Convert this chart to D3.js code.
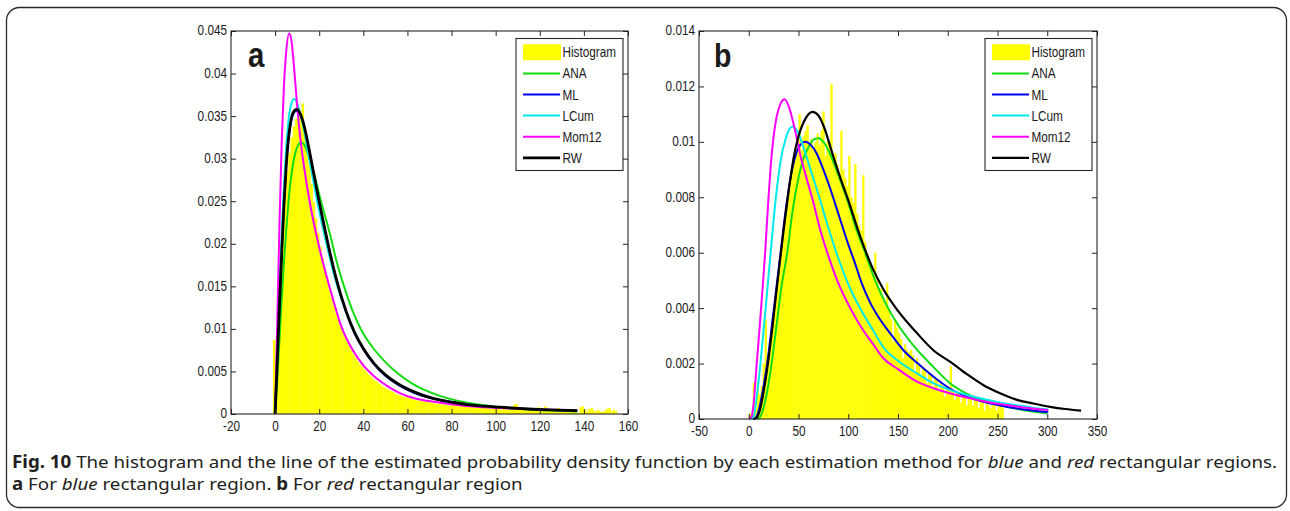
<!DOCTYPE html>
<html>
<head>
<meta charset="utf-8">
<script src="https://cdn.jsdelivr.net/npm/d3@7"></script>
<style>
  html, body { margin: 0; padding: 0; background: #fff; }
  svg { display: block; }
  text { font-family: "Liberation Sans", Arial, sans-serif; fill: #1a1a1a; }
  .caption text { font-family: "Noto Sans", "Open Sans", sans-serif; fill: #231f20; white-space: pre; }
</style>
</head>
<body>
<div id="fig"></div>
<script>
{
const width = 1290, height = 511;
const squeeze = 0.84;   // the figure's text is horizontally narrow

// ---- series ----
const seriesNames = ['ANA', 'ML', 'LCum', 'Mom12', 'RW'];
const seriesColors = ['#12dc12', '#0000ee', '#00eaea', '#ff00ff', '#000000'];

// ---- panel a ----
const xTicksA = [-20, 0, 20, 40, 60, 80, 100, 120, 140, 160];
const yTicksA = [0, 0.005, 0.01, 0.015, 0.02, 0.025, 0.03, 0.035, 0.04, 0.045];
const histAStart = -1, histABin = 1;
const histA = [
  0.0087,0.0062,0.0118,0.0172,0.0218,0.0256,0.0286,0.0307,0.0325,0.0338,
  0.0347,0.0352,0.0350,0.0365,0.0336,0.0316,0.0292,0.0270,0.0249,0.0230,
  0.0213,0.0197,0.0183,0.0170,0.0158,0.0147,0.0137,0.0128,0.0119,0.0111,
  0.0104,0.0097,0.0091,0.0085,0.0080,0.0075,0.0070,0.0066,0.0062,0.0058,
  0.0055,0.0052,0.0049,0.0046,0.0044,0.0041,0.0039,0.0037,0.0035,0.0033,
  0.0031,0.0030,0.0028,0.0027,0.0026,0.0024,0.0023,0.0022,0.0021,0.0020,
  0.0020,0.0019,0.0018,0.0017,0.0017,0.0016,0.0016,0.0015,0.0015,0.0014,
  0.0014,0.0013,0.0013,0.0012,0.0012,0.0012,0.0011,0.0011,0.0011,0.0010,
  0.0010,0.0012,0.0017,0.0010,0.0009,0.0009,0.0010,0.0009,0.0008,0.0008,
  0.0008,0.0008,0.0007,0.0007,0.0008,0.0007,0.0010,0.0007,0.0006,0.0006,
  0.0007,0.0006,0.0006,0.0005,0.0006,0.0006,0.0005,0.0005,0.0006,0.0011,
  0.0012,0.0006,0.0005,0.0005,0.0004,0.0005,0.0004,0.0004,0.0005,0.0004,
  0.0008,0.0006,0.0004,0.0009,0.0005,0.0004,0.0004,0.0003,0.0004,0.0007,
  0.0004,0.0003,0.0004,0.0003,0.0006,0.0003,0.0003,0.0002,0.0001,0.0008,
  0.0009,0.0005,0.0003,0.0006,0.0007,0.0004,0.0003,0.0005,0.0003,0.0002,
  0.0004,0.0006,0.0007,0.0003,0.0005,0.0003
];
const anaA = [[0,0],[1,0.0042],[2,0.0088],[3,0.0135],[4,0.0178],[5,0.0215],[6,0.0247],[7,0.0273],[8,0.0292],[9,0.0305],[10.5,0.0316],[11.8,0.0319],[13,0.0317],[14.5,0.0309],[16,0.0297],[18,0.0279],[20,0.0258],[22.5,0.0234],[25,0.0210],[28,0.0178],[31,0.0152],[35,0.0122],[39,0.0099],[44,0.0079],[50,0.0061],[56,0.0047],[62,0.0036],[68,0.0028],[75,0.0021],[82,0.0016],[90,0.0012],[100,0.00085],[110,0.00062],[120,0.00047],[130,0.00037],[137,0.0003]];
const mlA = [[0,0],[1,0.0066],[2,0.0132],[3,0.0193],[4,0.0248],[5,0.0292],[6,0.0322],[7,0.0341],[8,0.0351],[9.5,0.0356],[11,0.0353],[12.5,0.0343],[14,0.0327],[16,0.0301],[18,0.0274],[20,0.0247],[22,0.0222],[25,0.0187],[28,0.0155],[32,0.0121],[36,0.0095],[40,0.0076],[45,0.0058],[50,0.0045],[56,0.0034],[63,0.0025],[72,0.0018],[80,0.0014],[87,0.0011],[95,0.0009],[102,0.00078],[110,0.00065],[117,0.00055],[125,0.00047],[137,0.0004]];
const lcumA = [[0,0],[1,0.0075],[2,0.0148],[3,0.0213],[4,0.0268],[5,0.0312],[6,0.0343],[7,0.0361],[8.6,0.0370],[10,0.0365],[11.5,0.0352],[13,0.0335],[15,0.0306],[17,0.0278],[19,0.0251],[21,0.0226],[24,0.0192],[27,0.0161],[30,0.0136],[34,0.0108],[38,0.0086],[42,0.0069],[47,0.0053],[52,0.0042],[58,0.0032],[65,0.0024],[72,0.0018],[80,0.0014],[87,0.00108],[95,0.0009],[102,0.00077],[110,0.00065],[117,0.00056],[125,0.00048],[137,0.0004]];
const mom12A = [[0,0],[1,0.011],[2,0.0225],[3,0.0320],[4,0.0385],[5,0.0425],[6.4,0.0447],[7.5,0.0437],[8.5,0.0410],[10,0.0362],[11.5,0.0322],[13.5,0.0284],[15.5,0.0252],[17.5,0.0225],[20,0.0196],[23,0.0165],[26,0.0137],[30,0.0103],[35,0.0076],[40,0.0057],[45,0.0044],[52,0.0031],[57,0.0024],[64,0.0018],[72,0.00145],[80,0.00115],[87,0.00095],[95,0.0008],[102,0.0007],[110,0.00063],[117,0.00057],[125,0.0005],[137,0.00042]];
const rwA = [[0,0],[1,0.0065],[2,0.013],[3,0.019],[4,0.0245],[5,0.029],[6,0.0322],[7,0.0342],[8,0.0353],[9.7,0.0358],[11,0.0355],[12.5,0.0345],[14,0.0329],[16,0.0303],[18,0.0276],[20,0.0249],[22,0.0224],[25,0.0188],[28,0.0156],[32,0.0122],[36,0.0096],[40,0.0077],[45,0.0059],[50,0.0046],[56,0.0035],[63,0.0026],[72,0.0018],[80,0.0014],[87,0.0011],[95,0.00092],[102,0.0008],[110,0.00066],[117,0.00056],[125,0.00048],[137,0.0004]];

// ---- panel b ----
const xTicksB = [-50, 0, 50, 100, 150, 200, 250, 300, 350];
const yTicksB = [0, 0.002, 0.004, 0.006, 0.008, 0.01, 0.012, 0.014];
const histBStart = 0, histBBin = 2;
const histB = [
  0.0002,0.0002,0.0013,0.0004,0.0013,0.0009,0.0012,0.0020,0.0036,0.0022,
  0.0028,0.0032,0.0038,0.0044,0.0050,0.0056,0.0062,0.0068,0.0076,0.0081,
  0.0086,0.0090,0.0093,0.0096,0.0098,0.0110,0.0097,0.0102,0.0104,0.0106,
  0.0098,0.0101,0.0097,0.0100,0.0103,0.0099,0.0104,0.0111,0.0095,0.0100,
  0.0098,0.0121,0.0094,0.0096,0.0092,0.0088,0.0104,0.0090,0.0087,0.0084,
  0.0095,0.0080,0.0078,0.0092,0.0074,0.0070,0.0068,0.0088,0.0064,0.0060,
  0.0057,0.0055,0.0052,0.0060,0.0050,0.0047,0.0047,0.0044,0.0041,0.0049,
  0.0040,0.0036,0.0028,0.0036,0.0033,0.0031,0.0029,0.0022,0.0027,0.0025,
  0.0024,0.0025,0.0023,0.0017,0.0022,0.0020,0.0016,0.0019,0.0018,0.0013,
  0.0017,0.0016,0.0011,0.0015,0.0014,0.0010,0.0013,0.0012,0.0008,0.0012,
  0.0011,0.0019,0.0010,0.0007,0.0010,0.0009,0.0006,0.0009,0.0008,0.0005,
  0.0008,0.0008,0.0005,0.0007,0.0007,0.0004,0.0007,0.0006,0.0003,0.0006,
  0.0005,0.0004,0.0005,0.0006,0.0003,0.0005,0.0005,0.0004
];
const anaB = [[8,0],[11,0.00005],[14,0.0003],[18,0.0009],[23,0.002],[28,0.0034],[33,0.0048],[38.7,0.006],[44,0.0075],[50,0.0087],[55,0.0094],[60,0.0098],[65,0.01008],[70,0.01013],[75,0.0100],[80,0.0097],[90,0.0088],[100,0.0078],[108.5,0.0068],[116,0.0061],[127,0.0050],[140,0.0040],[150,0.0034],[160,0.0029],[169,0.0025],[185,0.0019],[202,0.0013],[220,0.0009],[236,0.00068],[255,0.00048],[270,0.00036],[285,0.00027],[300,0.0002]];
const mlB = [[4,0],[7,0.00005],[10,0.0003],[14,0.0010],[18.5,0.002],[25,0.0039],[32,0.006],[37,0.0075],[42,0.0087],[47,0.0095],[52,0.0099],[57,0.0100],[62,0.0099],[68,0.0096],[75,0.0090],[82,0.0083],[91,0.0073],[100,0.0063],[107,0.0056],[113.5,0.0049],[122,0.0042],[130,0.0037],[142,0.0031],[155,0.0025],[170,0.0020],[185.5,0.00153],[202,0.0011],[220,0.0008],[236,0.00062],[255,0.00047],[270,0.00038],[285,0.00031],[301,0.00025]];
const lcumB = [[2,0],[5,0.0001],[8,0.0008],[12,0.0021],[17,0.004],[22,0.006],[27,0.0079],[32,0.0093],[37,0.0101],[44,0.01055],[50,0.0103],[55,0.0098],[63,0.0089],[70,0.0081],[80,0.0069],[91,0.0057],[102,0.0047],[115,0.0038],[125,0.0032],[135,0.0026],[150,0.0021],[169,0.00165],[185,0.0013],[202,0.00105],[220,0.00086],[236,0.00072],[252,0.0006],[269,0.0005],[285,0.00041],[301,0.00034]];
const mom12B = [[0,0],[3,0.0001],[5,0.0006],[8,0.002],[10.5,0.0031],[13,0.0043],[16.5,0.006],[19.5,0.0078],[22,0.0091],[25,0.0102],[28,0.0109],[32,0.01138],[36,0.01154],[40,0.0113],[46,0.0105],[52,0.0095],[58,0.0087],[65,0.0078],[72,0.0068],[79,0.006],[90,0.0049],[102,0.004],[115,0.0032],[125,0.0027],[135,0.0022],[150,0.0018],[169,0.00135],[185,0.00112],[202,0.00093],[220,0.00077],[236,0.00064],[252,0.00054],[269,0.00045],[285,0.00038],[301,0.00032]];
const rwB = [[5,0],[8,0.00005],[11,0.0003],[15,0.001],[20,0.0022],[25,0.0037],[30,0.0053],[35,0.0068],[40,0.0082],[45,0.0094],[50,0.0102],[55,0.0107],[60,0.011],[64,0.01108],[70,0.01095],[76,0.0105],[83,0.0097],[93,0.0086],[100,0.0079],[110,0.0068],[117,0.0061],[125,0.0054],[135,0.0047],[150,0.0039],[169,0.0031],[185,0.0025],[205,0.002],[220,0.0016],[236,0.00122],[252,0.00094],[269,0.0007],[286,0.00056],[303,0.00044],[318,0.00036],[334,0.0003]];

// ---- caption ----
const captionLines = [
  [['Fig. 10', 'b'], [' The histogram and the line of the estimated probability density function by each estimation method for ', 'r'], ['blue', 'i'], [' and ', 'r'], ['red', 'i'], [' rectangular regions.', 'r']],
  [['a', 'b'], [' For ', 'r'], ['blue', 'i'], [' rectangular region. ', 'r'], ['b', 'b'], [' For ', 'r'], ['red', 'i'], [' rectangular region', 'r']]
];

const svg = d3.select('#fig').append('svg')
    .attr('width', width)
    .attr('height', height);

// outer rounded frame
svg.append('rect')
    .attr('x', 6.5).attr('y', 7.5)
    .attr('width', 1280).attr('height', 500)
    .attr('rx', 13)
    .attr('fill', 'none')
    .attr('stroke', '#2b2b2b')
    .attr('stroke-width', 1.3);

function narrow(sel) {
    sel.each(function() {
        let t = d3.select(this);
        let x = +t.attr('x') || 0;
        t.attr('x', x / squeeze).attr('transform', `scale(${squeeze},1)`);
    });
}

function drawPanel(p) {
    let x = d3.scaleLinear().domain(p.xDomain).range([p.left, p.right]);
    let y = d3.scaleLinear().domain(p.yDomain).range([p.bottom, p.top]);
    let g = svg.append('g');

    // histogram
    g.append('g').selectAll('rect').data(p.hist).join('rect')
        .attr('x', (d, i) => x(p.histStart + i * p.histBin))
        .attr('width', (d, i) => x(p.histStart + (i + 1) * p.histBin) - x(p.histStart + i * p.histBin) + 0.3)
        .attr('y', d => y(d))
        .attr('height', d => y(0) - y(d))
        .attr('fill', '#ffff00');

    // fitted pdf lines
    let line = d3.line().x(d => x(d[0])).y(d => y(d[1])).curve(d3.curveMonotoneX);
    p.curves.forEach((c, i) => {
        g.append('path').datum(c)
            .attr('d', line)
            .attr('fill', 'none')
            .attr('stroke', seriesColors[i])
            .attr('stroke-width', p.lineWidths[i])
            .attr('stroke-linejoin', 'round');
    });

    // axes, MATLAB style: inward ticks on all four sides
    let bottom = g.append('g')
        .attr('transform', `translate(0,${p.bottom})`)
        .call(d3.axisBottom(x).tickValues(p.xTicks).tickSize(-5).tickSizeOuter(0).tickPadding(7).tickFormat(d => String(d)));
    let left = g.append('g')
        .attr('transform', `translate(${p.left},0)`)
        .call(d3.axisLeft(y).tickValues(p.yTicks).tickSize(-5).tickSizeOuter(0).tickPadding(4).tickFormat(d => String(d)));
    let top = g.append('g')
        .attr('transform', `translate(0,${p.top})`)
        .call(d3.axisTop(x).tickValues(p.xTicks).tickSize(-5).tickSizeOuter(0).tickFormat(''));
    let right = g.append('g')
        .attr('transform', `translate(${p.right},0)`)
        .call(d3.axisRight(y).tickValues(p.yTicks).tickSize(-5).tickSizeOuter(0).tickFormat(''));

    [bottom, left, top, right].forEach(a => {
        a.attr('font-size', 14).attr('font-family', null).attr('color', '#262626');
        a.select('.domain').remove();
    });
    left.selectAll('text').attr('dy', '0.28em');
    narrow(bottom.selectAll('text'));
    narrow(left.selectAll('text'));

    g.append('rect')
        .attr('x', p.left).attr('y', p.top)
        .attr('width', p.right - p.left).attr('height', p.bottom - p.top)
        .attr('fill', 'none')
        .attr('stroke', '#262626')
        .attr('stroke-width', 1.1);

    // panel letter
    g.append('text')
        .attr('x', p.left + p.labelDx)
        .attr('y', p.top + 36)
        .attr('font-size', p.labelSize)
        .attr('font-weight', 'bold')
        .attr('fill', '#000')
        .text(p.label)
        .call(narrow);

    // legend
    let lx = p.right - 5 - 107, ly = p.top + 7.5;
    let leg = g.append('g');
    leg.append('rect')
        .attr('x', lx).attr('y', ly)
        .attr('width', 107).attr('height', 132)
        .attr('fill', '#fff')
        .attr('stroke', '#262626')
        .attr('stroke-width', 1.1);
    let names = ['Histogram'].concat(seriesNames);
    names.forEach((n, i) => {
        let cy = ly + 13.8 + i * 21.1;
        if (i === 0) {
            leg.append('rect')
                .attr('x', lx + 7).attr('y', cy - 8)
                .attr('width', 38).attr('height', 16)
                .attr('fill', '#ffff00');
        } else {
            leg.append('line')
                .attr('x1', lx + 7).attr('x2', lx + 44)
                .attr('y1', cy).attr('y2', cy)
                .attr('stroke', seriesColors[i - 1])
                .attr('stroke-width', p.lineWidths[i - 1]);
        }
        leg.append('text')
            .attr('x', lx + 46.5)
            .attr('y', cy)
            .attr('dy', '0.36em')
            .attr('font-size', 14)
            .text(n)
            .call(narrow);
    });
}

drawPanel({
    label: 'a', labelDx: 17, labelSize: 35,
    left: 231, right: 628, top: 31, bottom: 414,
    xDomain: [-20, 160], yDomain: [0, 0.045],
    xTicks: xTicksA, yTicks: yTicksA,
    hist: histA, histStart: histAStart, histBin: histABin,
    curves: [anaA, mlA, lcumA, mom12A, rwA],
    lineWidths: [2, 2, 2, 2, 2.8]
});

drawPanel({
    label: 'b', labelDx: 15, labelSize: 34,
    left: 699, right: 1097, top: 31, bottom: 419,
    xDomain: [-50, 350], yDomain: [0, 0.014],
    xTicks: xTicksB, yTicks: yTicksB,
    hist: histB, histStart: histBStart, histBin: histBBin,
    curves: [anaB, mlB, lcumB, mom12B, rwB],
    lineWidths: [2, 2, 2, 2, 2.2]
});

// caption, squeezed to the width of the original condensed type
let cap = svg.append('g').attr('class', 'caption');
let capTexts = captionLines.map(segs => {
    let t = cap.append('text').attr('x', 0).attr('y', 0).attr('font-size', 17);
    segs.forEach(s => {
        t.append('tspan')
            .attr('font-weight', s[1] === 'b' ? 'bold' : null)
            .attr('font-style', s[1] === 'i' ? 'italic' : null)
            .text(s[0]);
    });
    return t;
});
let k = 1266 / capTexts[0].node().getComputedTextLength();
capTexts[0].attr('transform', `translate(12,467.5) scale(${k},1)`);
capTexts[1].attr('transform', `translate(12,490) scale(${k},1)`);
}
</script>
</body>
</html>
